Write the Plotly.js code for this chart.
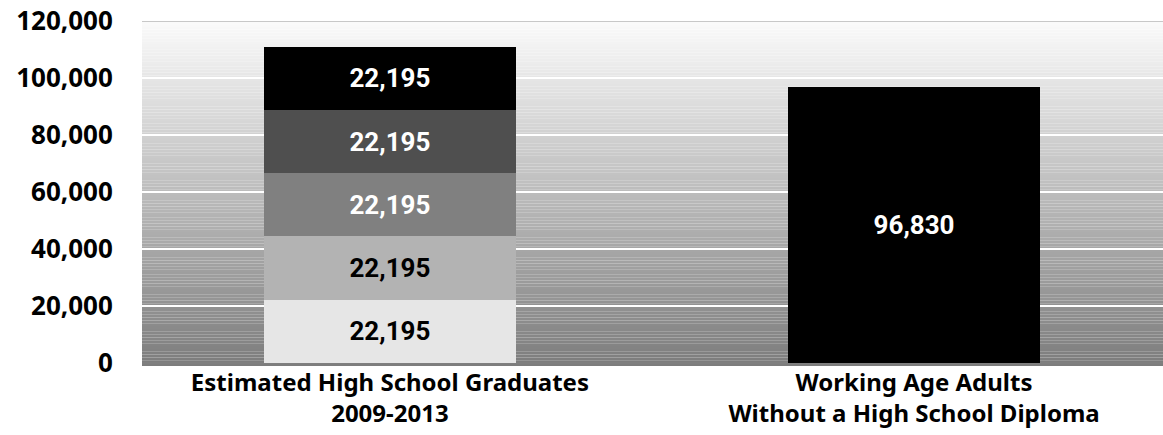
<!DOCTYPE html>
<html>
<head>
<meta charset="utf-8">
<script src="https://cdn.plot.ly/plotly-3.0.1.min.js"></script>
<style>
  html, body { margin: 0; padding: 0; background: #ffffff; }
  #chart { width: 1163px; height: 435px; }
</style>
</head>
<body>
<div id="chart"></div>
<script>
// ---- Data ----
const categories = [
  'Estimated High School Graduates<br>2009-2013',
  'Working Age Adults<br>Without a High School Diploma'
];
const gradYears = ['2009', '2010', '2011', '2012', '2013'];
const gradValues = [22195, 22195, 22195, 22195, 22195];
const adultsValue = [96830];
const yTickValues = [0, 20000, 40000, 60000, 80000, 100000, 120000];
const yTickLabels = ['0', '20,000', '40,000', '60,000', '80,000', '100,000', '120,000'];

// ---- Styles ----
const segColors = ['#e6e6e6', '#b3b3b3', '#808080', '#4f4f4f', '#000000'];
const segTextColors = ['#000000', '#000000', '#ffffff', '#ffffff', '#ffffff'];
const labelFont = 'Roboto, "Noto Sans", sans-serif';
const axisFont = '"Noto Sans", "Open Sans", sans-serif';
const yMin = -1100, yMax = 120000;

const traces = gradYears.map((yr, i) => ({
  type: 'bar',
  name: yr,
  x: [categories[0]],
  y: [gradValues[i]],
  width: 0.48,
  marker: { color: segColors[i], line: { width: 0 } },
  texttemplate: '%{y:,}',
  textposition: 'inside',
  insidetextanchor: 'middle',
  textangle: 0,
  constraintext: 'none',
  textfont: { family: labelFont, size: 26, color: segTextColors[i], weight: 'bold' },
  hoverinfo: 'skip',
  showlegend: false
}));

traces.push({
  type: 'bar',
  name: 'Working Age Adults',
  x: [categories[1]],
  y: adultsValue,
  width: 0.48,
  marker: { color: '#000000', line: { width: 0 } },
  texttemplate: '%{y:,}',
  textposition: 'inside',
  insidetextanchor: 'middle',
  textangle: 0,
  constraintext: 'none',
  textfont: { family: labelFont, size: 26, color: '#ffffff', weight: 'bold' },
  hoverinfo: 'skip',
  showlegend: false
});

// background gradient bands (styling only)
const shapes = [];
const step = 1000;
for (let v = yMin; v < yMax; v += step) {
  const t = Math.max(0, Math.min(1, (v + step / 2) / yMax));
  const g = Math.round(125 + t * (251 - 125));
  shapes.push({
    type: 'rect', xref: 'paper', yref: 'y',
    x0: 0, x1: 1, y0: v, y1: Math.min(v + step, yMax),
    fillcolor: `rgb(${g},${g},${g})`, line: { width: 0 }, layer: 'below'
  });
}
shapes.push({
  type: 'line', xref: 'paper', yref: 'y',
  x0: 0, x1: 1, y0: yMax, y1: yMax,
  line: { color: '#c8c8c8', width: 2 }, layer: 'above'
});

const layout = {
  width: 1163,
  height: 435,
  margin: { l: 142, r: 0, t: 21, b: 69, pad: 0 },
  paper_bgcolor: '#ffffff',
  plot_bgcolor: 'rgba(0,0,0,0)',
  barmode: 'stack',
  showlegend: false,
  shapes: shapes,
  xaxis: {
    type: 'category',
    range: [-0.473, 1.475],
    showgrid: false,
    zeroline: false,
    showline: false,
    ticks: '',
    ticklabelstandoff: 0,
    tickfont: { family: axisFont, size: 24, color: '#000000', weight: 'bold' },
    fixedrange: true
  },
  yaxis: {
    range: [yMin, yMax],
    tickvals: yTickValues,
    ticktext: yTickLabels,
    showgrid: true,
    gridcolor: '#ffffff',
    gridwidth: 2,
    zeroline: true,
    zerolinecolor: '#7f7f7f',
    zerolinewidth: 2,
    showline: false,
    ticks: 'outside',
    ticklen: 23,
    tickcolor: 'rgba(0,0,0,0)',
    tickfont: { family: axisFont, size: 26, color: '#000000', weight: 'bold' },
    fixedrange: true
  },
  font: { family: axisFont, color: '#000000' }
};

Plotly.newPlot('chart', traces, layout, { displayModeBar: false, staticPlot: true });
</script>
</body>
</html>
